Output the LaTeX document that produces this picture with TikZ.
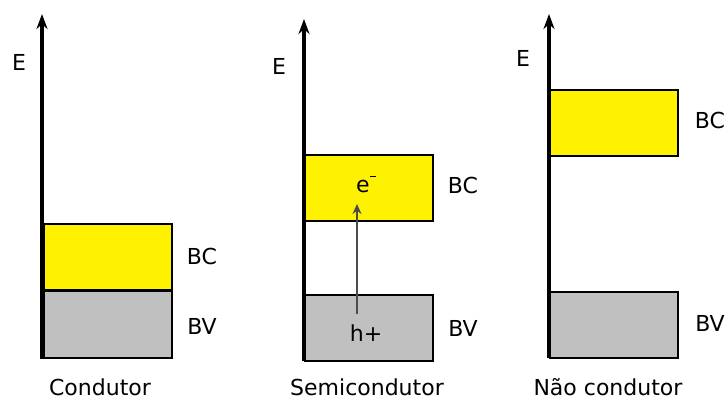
\documentclass[tikz,border=0pt]{standalone}
\usepackage{fontspec}
\setmainfont{DejaVu Sans}
\usetikzlibrary{arrows.meta}
\definecolor{bandyellow}{HTML}{FFF200}
\definecolor{bandgray}{HTML}{C0C0C0}
\begin{document}
\begin{tikzpicture}[x=1pt,y=-1pt,
  band/.style={draw=black, line width=2.2pt, anchor=north west, minimum width=128pt, inner sep=0pt, outer sep=0pt},
  axis/.style={line width=3.6pt, -{Stealth[length=15pt,width=11pt]}},
  lbl/.style={font=\fontsize{22}{26}\selectfont, inner sep=0pt}]
\useasboundingbox[fill=white] (0,0) rectangle (726,401);
% left: conductor
\node[band, fill=bandgray, minimum height=67pt] (bv1) at (44,291) {};
\node[band, fill=bandyellow, minimum height=66pt] (bc1) at (44,224) {};
\coordinate (ax1b) at (42,359);
\coordinate (ax1t) at (42,14);
\draw[axis] (ax1b) -- (ax1t);
\node[lbl] (e1) at (19,62) {E};
\node[lbl] (lbc1) at (202,256) {BC};
\node[lbl] (lbv1) at (202,326) {BV};
\node[lbl] (t1) at (100,387) {Condutor};
% middle: semiconductor
\node[band, fill=bandyellow, minimum height=66pt] (bc2) at (305,155) {};
\node[band, fill=bandgray, minimum height=66pt] (bv2) at (305,295) {};
\coordinate (ax2b) at (304,361);
\coordinate (ax2t) at (304,19);
\draw[axis] (ax2b) -- (ax2t);
\node[lbl] (e2) at (279,66) {E};
\node[lbl] (lbc2) at (463,185) {BC};
\node[lbl] (lbv2) at (463,328) {BV};
\node[lbl] (t2) at (367,387) {Semicondutor};
\node[lbl, anchor=base] (el) at (366,193) {e\raisebox{1.3ex}{\rule{6pt}{1.8pt}}};
\node[lbl] (hp) at (366,333) {h+};
\coordinate (ar0) at (357,314);
\coordinate (ar1) at (357,204);
\draw[line width=1.6pt, draw=black!70, -{Stealth[length=10pt,width=9pt,fill=black!60!red!80!black]}] (ar0) -- (ar1);
% right: insulator
\node[band, fill=bandyellow, minimum height=66pt] (bc3) at (550,90) {};
\node[band, fill=bandgray, minimum height=66pt] (bv3) at (550,292) {};
\coordinate (ax3b) at (549,358);
\coordinate (ax3t) at (549,14);
\draw[axis] (ax3b) -- (ax3t);
\node[lbl] (e3) at (523,58) {E};
\node[lbl] (lbc3) at (710,120) {BC};
\node[lbl] (lbv3) at (710,323) {BV};
\node[lbl] (t3) at (608,387) {Não condutor};
\end{tikzpicture}
\end{document}
